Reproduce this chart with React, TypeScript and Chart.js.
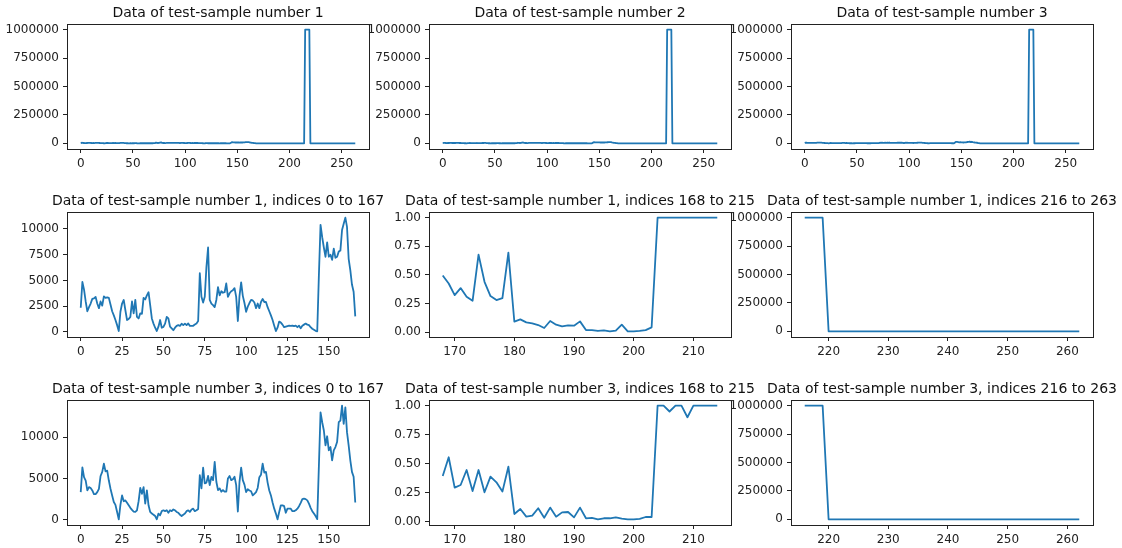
import React, { useEffect, useRef } from "react";
import { Chart, registerables } from "chart.js";

Chart.register(...registerables);

// ---------------- data ----------------
// sample 1, indices 0..166
const sample1Early = [
  2340, 4850, 4100, 2950, 2000, 2400, 2750, 3200, 3250, 3400,
  2750, 2300, 2950, 2550, 3450, 3300, 3350, 3300, 2650, 2000,
  1600, 1150, 650, 80, 1950, 2750, 3100, 2100, 1150, 1250,
  1450, 2950, 1800, 3100, 1450, 1300, 1800, 1750, 3300, 3150,
  3550, 3850, 2600, 1300, 800, 400, 80, 500, 1150, 400,
  480, 800, 1450, 1300, 500, 330, 160, 400, 580, 650,
  580, 780, 650, 800, 650, 810, 580, 580, 590, 720,
  820, 1050, 5700, 3400, 2850, 3400, 6300, 8200, 3100, 2750,
  2600, 2400, 3100, 4350, 3550, 3950, 3800, 3850, 4700, 3400,
  3750, 3950, 4050, 4250, 3400, 1050, 3500, 4800, 3500, 2800,
  1950, 2450, 2800, 3100, 3050, 2850, 2300, 2750, 2300, 2900,
  3200, 2900, 2900, 2400, 2000, 1600, 1150, 600, 70, 400,
  1000, 900, 700, 450, 500, 550, 600, 580, 600, 550,
  600, 450, 600, 350, 600, 700, 800, 700, 650, 450,
  300, 200, 100, 50, 5500, 10400, 9200, 8200, 7300, 8700,
  7300, 7500, 7000, 8100, 7200, 7300, 7800, 7900, 9900, 10500,
  11100, 10200, 7100, 6000, 4600, 3900, 1500,
];
// sample 1, indices 168..214
const sample1Mid = [
  0.494, 0.424, 0.323, 0.384, 0.308, 0.273, 0.677, 0.439, 0.314, 0.279, 0.297, 0.695,
  0.09, 0.11, 0.084, 0.076, 0.061, 0.035, 0.096, 0.064, 0.049, 0.058, 0.055, 0.093,
  0.017, 0.017, 0.009, 0.015, 0.006, 0.012, 0.064, 0.006, 0.006, 0.009, 0.017, 0.041,
  1, 1, 1, 1, 1, 1, 1, 1, 1, 1, 1,
];
// sample 1, indices 216..262
const sample1Late = [
  1000000, 1000000, 1000000, 1000000,
  0, 0, 0, 0, 0, 0, 0, 0, 0, 0, 0, 0, 0, 0, 0, 0, 0, 0, 0, 0, 0, 0,
  0, 0, 0, 0, 0, 0, 0, 0, 0, 0, 0, 0, 0, 0, 0, 0, 0, 0, 0, 0, 0,
];
// sample 1 values at indices 167, 215, 263
const sample1Gaps = [1200, 1000000, 0];

// sample 2 (only the full view is shown)
const sample2Early = [
  2500, 4000, 3500, 2800, 2200, 2600, 3000, 3100, 3300, 2900,
  2600, 2800, 3000, 3200, 3100, 3300, 3000, 2700, 2200, 1800,
  1200, 800, 400, 200, 1500, 2500, 2900, 2200, 1500, 1300,
  1600, 2400, 2000, 2600, 1700, 1400, 1700, 1900, 2800, 3000,
  3300, 3500, 2600, 1400, 800, 500, 300, 600, 1000, 600,
  500, 700, 1200, 1100, 600, 400, 300, 500, 600, 700,
  600, 500, 700, 600, 700, 800, 700, 600, 700, 800,
  900, 1200, 4800, 3400, 3000, 3300, 6200, 7200, 3300, 2800,
  2600, 2500, 3000, 4000, 3400, 3800, 3700, 3800, 4400, 3400,
  3600, 3800, 3900, 4000, 3200, 1200, 3600, 4500, 3500, 2700,
  2100, 2500, 2800, 3000, 2900, 2500, 2800, 2400, 2900, 3000,
  2800, 2800, 2300, 1800, 1300, 900, 400, 300, 600, 900,
  800, 700, 600, 500, 600, 600, 500, 600, 600, 500,
  600, 500, 600, 700, 700, 700, 600, 500, 400, 300,
  200, 100, 200, 300, 6000, 9800, 9000, 8000, 7500, 8300,
  7600, 7400, 7200, 7800, 7300, 7400, 7700, 8000, 9600, 10200,
  10800, 9800, 7400, 6200, 4800, 3900, 1800,
];
const sample2Mid = [
  0.45, 0.4, 0.3, 0.35, 0.3, 0.28, 0.6, 0.42, 0.32, 0.29, 0.3, 0.62,
  0.08, 0.1, 0.08, 0.07, 0.06, 0.04, 0.09, 0.06, 0.05, 0.05, 0.05, 0.08,
  0.02, 0.02, 0.01, 0.01, 0.01, 0.01, 0.05, 0.01, 0.01, 0.01, 0.02, 0.04,
  1, 1, 1, 1, 1, 1, 1, 1, 1, 1, 1,
];
const sample2Late = [
  1000000, 1000000, 1000000, 1000000,
  0, 0, 0, 0, 0, 0, 0, 0, 0, 0, 0, 0, 0, 0, 0, 0, 0, 0, 0, 0, 0, 0,
  0, 0, 0, 0, 0, 0, 0, 0, 0, 0, 0, 0, 0, 0, 0, 0, 0, 0, 0, 0, 0,
];
const sample2Gaps = [1000, 1000000, 0];

// sample 3, indices 0..166
const sample3Early = [
  3350, 6350, 5150, 4750, 3550, 3950, 3850, 3550, 3100, 3100,
  3350, 3750, 5300, 5800, 6800, 5850, 5950, 4750, 3750, 2950,
  2150, 1800, 950, 60, 1800, 2950, 2250, 2350, 2050, 1750,
  1450, 1200, 1000, 950, 1150, 2250, 3850, 3150, 3950, 1950,
  3550, 1750, 950, 750, 620, 460, 60, 750, 550, 1050,
  1150, 1050, 1150, 850, 1150, 1050, 1250, 1150, 950, 850,
  620, 460, 620, 750, 1050, 1150, 950, 1250, 1350, 1050,
  1150, 1300, 5400, 3800, 6300, 4400, 4500, 5300, 4200, 5200,
  4800, 7000, 4600, 3600, 3800, 3400, 3600, 3400, 3400, 5000,
  5300, 4800, 4900, 5200, 4200, 1000, 4600, 6300, 4800, 4250,
  3350, 3700, 3550, 3450, 2950, 3150, 3350, 3850, 5150, 5450,
  6800, 5700, 5800, 4500, 3550, 2950, 2100, 1350, 750, 60,
  950, 1750, 1750, 1650, 850, 1350, 1350, 1350, 1050, 1050,
  1150, 1350, 1650, 2050, 2500, 2550, 2500, 2350, 1950, 1450,
  1050, 750, 450, 80, 6500, 13000, 11800, 10800, 9000, 10100,
  8400, 8800, 7200, 8400, 8800, 9400, 11800, 12000, 13800, 11600,
  13600, 10600, 9000, 7200, 5800, 5200, 2100,
];
// sample 3, indices 168..214
const sample3Mid = [
  0.394, 0.555, 0.293, 0.316, 0.445, 0.264, 0.445, 0.253, 0.388, 0.339, 0.259, 0.474,
  0.066, 0.109, 0.043, 0.052, 0.115, 0.034, 0.121, 0.043, 0.08, 0.083, 0.037, 0.121,
  0.029, 0.032, 0.02, 0.029, 0.029, 0.037, 0.026, 0.02, 0.02, 0.023, 0.04, 0.04,
  1, 1, 0.95, 1, 1, 0.9, 1, 1, 1, 1, 1,
];
// sample 3, indices 216..262
const sample3Late = [
  1000000, 1000000, 1000000, 1000000,
  0, 0, 0, 0, 0, 0, 0, 0, 0, 0, 0, 0, 0, 0, 0, 0, 0, 0, 0, 0, 0, 0,
  0, 0, 0, 0, 0, 0, 0, 0, 0, 0, 0, 0, 0, 0, 0, 0, 0, 0, 0, 0, 0,
];
const sample3Gaps = [1500, 1000000, 0];

// tick labels
const fullXTicks = [0, 50, 100, 150, 200, 250];
const earlyXTicks = [0, 25, 50, 75, 100, 125, 150];
const midXTicks = [170, 180, 190, 200, 210];
const lateXTicks = [220, 230, 240, 250, 260];
const bigYTicks = [0, 250000, 500000, 750000, 1000000];
const early1YTicks = [0, 2500, 5000, 7500, 10000];
const early3YTicks = [0, 5000, 10000];
const unitYTicks = [0, 0.25, 0.5, 0.75, 1];

const full = (e: number[], m: number[], l: number[], g: number[]) => [
  ...e, g[0], ...m, g[1], ...l, g[2],
];

// ---------------- layout ----------------
const COL_X = [67, 429, 791];
const ROW_Y = [24, 212, 400];
const BOX_W = 302;
const BOX_H = 125;
const PAD_L = 80;
const PAD_T = 24;
const PAD_R = 40;
const PAD_B = 30;
const FONT = '"DejaVu Sans", "Liberation Sans", sans-serif';
const TEXT = "#222";

type Spec = {
  col: number;
  row: number;
  title: string;
  start: number;
  ys: number[];
  xTicks: number[];
  yTicks: number[];
  decimals: number;
};

const specs: Spec[] = [
  { col: 0, row: 0, title: "Data of test-sample number 1", start: 0, ys: full(sample1Early, sample1Mid, sample1Late, sample1Gaps), xTicks: fullXTicks, yTicks: bigYTicks, decimals: 0 },
  { col: 1, row: 0, title: "Data of test-sample number 2", start: 0, ys: full(sample2Early, sample2Mid, sample2Late, sample2Gaps), xTicks: fullXTicks, yTicks: bigYTicks, decimals: 0 },
  { col: 2, row: 0, title: "Data of test-sample number 3", start: 0, ys: full(sample3Early, sample3Mid, sample3Late, sample3Gaps), xTicks: fullXTicks, yTicks: bigYTicks, decimals: 0 },
  { col: 0, row: 1, title: "Data of test-sample number 1, indices 0 to 167", start: 0, ys: sample1Early, xTicks: earlyXTicks, yTicks: early1YTicks, decimals: 0 },
  { col: 1, row: 1, title: "Data of test-sample number 1, indices 168 to 215", start: 168, ys: sample1Mid, xTicks: midXTicks, yTicks: unitYTicks, decimals: 2 },
  { col: 2, row: 1, title: "Data of test-sample number 1, indices 216 to 263", start: 216, ys: sample1Late, xTicks: lateXTicks, yTicks: bigYTicks, decimals: 0 },
  { col: 0, row: 2, title: "Data of test-sample number 3, indices 0 to 167", start: 0, ys: sample3Early, xTicks: earlyXTicks, yTicks: early3YTicks, decimals: 0 },
  { col: 1, row: 2, title: "Data of test-sample number 3, indices 168 to 215", start: 168, ys: sample3Mid, xTicks: midXTicks, yTicks: unitYTicks, decimals: 2 },
  { col: 2, row: 2, title: "Data of test-sample number 3, indices 216 to 263", start: 216, ys: sample3Late, xTicks: lateXTicks, yTicks: bigYTicks, decimals: 0 },
];

function makeChart(canvas: HTMLCanvasElement, p: Spec) {
  const pts = p.ys.map((y, i) => ({ x: p.start + i, y }));
  const xMin = p.start;
  const xMax = p.start + p.ys.length - 1;
  const xr = xMax - xMin;
  const yMin = Math.min(...p.ys);
  const yMax = Math.max(...p.ys);
  const yr = yMax - yMin;

  const framePlugin = {
    id: "frame",
    afterDraw(chart: any) {
      const { ctx, chartArea: a } = chart;
      ctx.save();
      ctx.strokeStyle = "#222";
      ctx.lineWidth = 1;
      ctx.strokeRect(a.left + 0.5, a.top + 0.5, a.right - a.left, a.bottom - a.top);
      ctx.font = `14px ${FONT}`;
      ctx.fillStyle = "#111";
      ctx.textAlign = "center";
      ctx.textBaseline = "alphabetic";
      ctx.fillText(p.title, (a.left + a.right) / 2, a.top - 7);
      ctx.restore();
    },
  };

  const common = {
    grid: {
      display: true,
      drawOnChartArea: false,
      drawTicks: true,
      tickLength: 4,
      color: "#222",
      lineWidth: 1,
    },
    border: { display: false },
  };

  return new Chart(canvas, {
    type: "line",
    data: {
      datasets: [
        {
          data: pts,
          borderColor: "#1f77b4",
          borderWidth: 1.8,
          pointRadius: 0,
          tension: 0,
          fill: false,
          borderJoinStyle: "round",
        },
      ],
    },
    options: {
      animation: false,
      responsive: false,
      devicePixelRatio: 1,
      events: [],
      layout: { padding: { top: PAD_T, right: PAD_R, left: 0, bottom: 0 } },
      plugins: {
        legend: { display: false },
        tooltip: { enabled: false },
        title: { display: false },
      },
      scales: {
        x: {
          type: "linear",
          min: xMin - 0.05 * xr,
          max: xMax + 0.05 * xr,
          ...common,
          afterBuildTicks: (s: any) => {
            s.ticks = p.xTicks.map((v) => ({ value: v }));
          },
          afterFit: (s: any) => {
            s.height = PAD_B;
          },
          ticks: {
            autoSkip: false,
            maxRotation: 0,
            padding: 4,
            color: TEXT,
            font: { family: FONT, size: 12 },
            callback: (v: any) => String(v),
          },
        },
        y: {
          type: "linear",
          min: yMin - 0.05 * yr,
          max: yMax + 0.05 * yr,
          ...common,
          afterBuildTicks: (s: any) => {
            s.ticks = p.yTicks.map((v) => ({ value: v }));
          },
          afterFit: (s: any) => {
            s.width = PAD_L;
          },
          ticks: {
            autoSkip: false,
            padding: 4,
            color: TEXT,
            font: { family: FONT, size: 12 },
            callback: (v: any) => Number(v).toFixed(p.decimals),
          },
        },
      },
    } as any,
    plugins: [framePlugin],
  });
}

function Panel({ spec }: { spec: Spec }) {
  const ref = useRef<HTMLCanvasElement | null>(null);
  useEffect(() => {
    if (!ref.current) return;
    const c = makeChart(ref.current, spec);
    return () => c.destroy();
  }, [spec]);
  return (
    <canvas
      ref={ref}
      width={PAD_L + BOX_W + PAD_R}
      height={PAD_T + BOX_H + PAD_B}
      style={{
        position: "absolute",
        left: COL_X[spec.col] - PAD_L,
        top: ROW_Y[spec.row] - PAD_T,
        width: PAD_L + BOX_W + PAD_R,
        height: PAD_T + BOX_H + PAD_B,
      }}
    />
  );
}

export default function App() {
  return (
    <div
      style={{
        position: "absolute",
        left: 0,
        top: 0,
        width: 1122,
        height: 548,
        background: "#fff",
        overflow: "hidden",
      }}
    >
      {specs.map((s, i) => (
        <Panel key={i} spec={s} />
      ))}
    </div>
  );
}
